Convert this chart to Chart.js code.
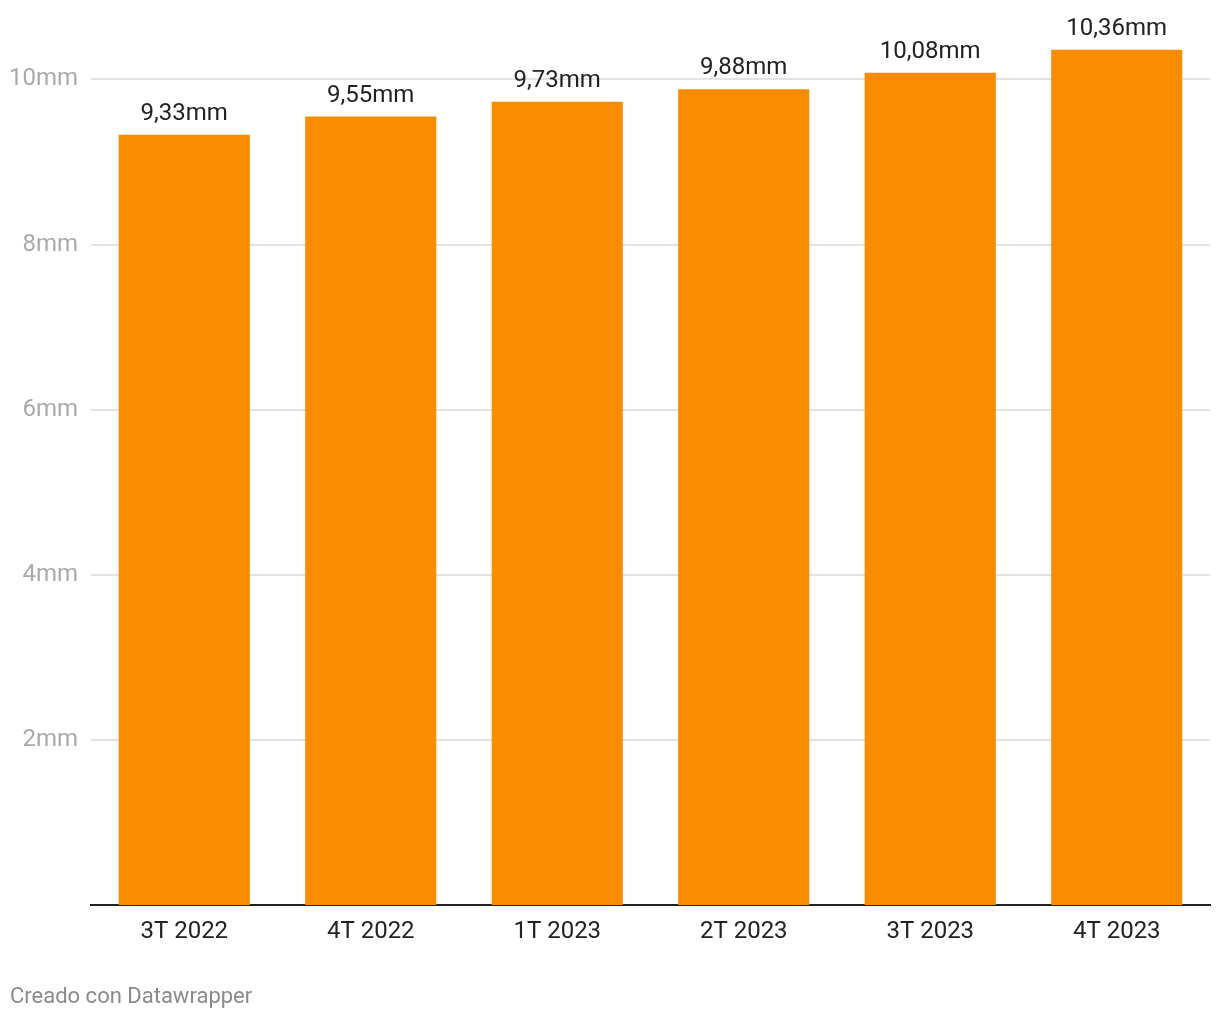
<!DOCTYPE html>
<html>
<head>
<meta charset="utf-8">
<script src="https://cdn.jsdelivr.net/npm/chart.js@4/dist/chart.umd.min.js"></script>
<style>
  html, body { margin: 0; padding: 0; background: #fff; }
  #wrap { position: relative; width: 1220px; height: 1020px; }
  #c { position: absolute; left: 0; top: 0; }
  #footer { position: absolute; left: 10px; top: 983px; font-family: Roboto, sans-serif; font-size: 22px; color: #8a8a8a; }
</style>
</head>
<body>
<div id="wrap">
  <canvas id="c" width="1220" height="1020"></canvas>
  <div id="footer">Creado con Datawrapper</div>
</div>
<script>
const categories = ['3T 2022', '4T 2022', '1T 2023', '2T 2023', '3T 2023', '4T 2023'];
const values = [9.33, 9.55, 9.73, 9.88, 10.08, 10.36];
const yTicks = [2, 4, 6, 8, 10];

const fmt = v => v.toFixed(2).replace('.', ',') + 'mm';

const valueLabels = {
  id: 'valueLabels',
  afterDatasetsDraw(chart) {
    const ctx = chart.ctx;
    const meta = chart.getDatasetMeta(0);
    ctx.save();
    ctx.font = '24px Roboto';
    ctx.fillStyle = '#222';
    ctx.textAlign = 'center';
    ctx.textBaseline = 'alphabetic';
    meta.data.forEach((bar, i) => {
      ctx.fillText(fmt(values[i]), bar.x, bar.y - 15);
    });
    ctx.restore();
  }
};

new Chart(document.getElementById('c'), {
  type: 'bar',
  data: {
    labels: categories,
    datasets: [{
      data: values,
      backgroundColor: '#f98c00',
      borderWidth: 0,
      barPercentage: 0.703,
      categoryPercentage: 1.0
    }]
  },
  options: {
    responsive: false,
    animation: false,
    devicePixelRatio: 1,
    layout: { padding: { top: 4, right: 10, left: 0, bottom: 0 } },
    plugins: { legend: { display: false }, tooltip: { enabled: false } },
    scales: {
      x: {
        grid: { display: false, drawTicks: false },
        border: { display: true, color: '#222', width: 2 },
        ticks: { color: '#222', font: { family: 'Roboto', size: 24 }, padding: 13 },
        afterFit(scale) { scale.height = 1020 - 905 - 0; }
      },
      y: {
        min: 0,
        max: 10.63,
        afterBuildTicks(axis) { axis.ticks = yTicks.map(v => ({ value: v })); },
        grid: { color: '#e3e3e3', lineWidth: 2, drawTicks: false },
        border: { display: false },
        ticks: {
          color: '#aaaaaa',
          font: { family: 'Roboto', size: 24 },
          padding: 13,
          callback: v => v + 'mm'
        },
        afterFit(scale) { scale.width = 91; }
      }
    }
  },
  plugins: [valueLabels]
});
</script>
</body>
</html>
